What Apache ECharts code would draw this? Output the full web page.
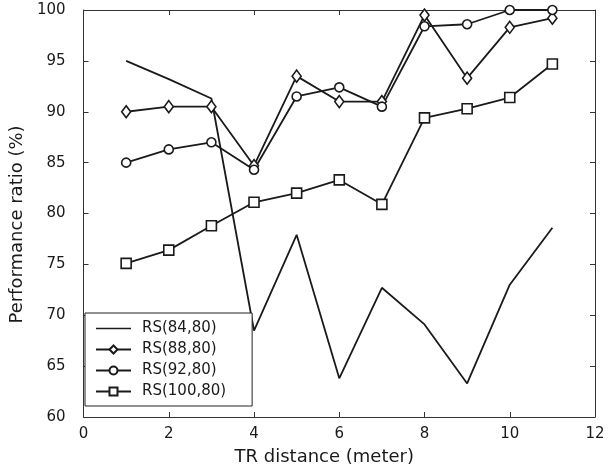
<!DOCTYPE html>
<html>
<head>
<meta charset="utf-8">
<script src="https://cdn.jsdelivr.net/npm/echarts@6/dist/echarts.min.js"></script>
<style>
  html, body { margin: 0; padding: 0; background: #fff; }
  #chart { width: 614px; height: 471px; }
</style>
</head>
<body>
<div id="chart"></div>
<script>
// TR distance (meter)
const distances = [1, 2, 3, 4, 5, 6, 7, 8, 9, 10, 11];

// Performance ratio (%) per configuration
const rs84 = [95.0, 93.2, 91.3, 68.5, 77.9, 63.8, 72.7, 69.1, 63.3, 73.0, 78.6];
const rs88 = [90.0, 90.5, 90.5, 84.7, 93.5, 91.0, 91.0, 99.5, 93.3, 98.3, 99.2];
const rs92 = [85.0, 86.3, 87.0, 84.3, 91.5, 92.4, 90.5, 98.4, 98.6, 100.0, 100.0];
const rs100 = [75.1, 76.4, 78.8, 81.1, 82.0, 83.3, 80.9, 89.4, 90.3, 91.4, 94.7];

const seriesNames = ['RS(84,80)', 'RS(88,80)', 'RS(92,80)', 'RS(100,80)'];

const xTicks = { min: 0, max: 12, interval: 2 };
const yTicks = { min: 60, max: 100, interval: 5 };

const ink = '#1a1a1a';
const font = 'DejaVu Sans';

// plain horizontal stroke for the marker-less series in the legend
const plainLineIcon = 'path://M0,0 M0,4.2 L35,4.2 L35,5.8 L0,5.8 Z M35,10';

function pairs(ys) {
  return distances.map((x, i) => [x, ys[i]]);
}

function lineSeries(name, ys, symbol, size) {
  return {
    name: name,
    type: 'line',
    data: pairs(ys),
    symbol: symbol,
    symbolSize: size,
    showSymbol: symbol !== 'none',
    lineStyle: { color: ink, width: 1.8 },
    itemStyle: { color: '#fff', borderColor: ink, borderWidth: 1.6 },
    emphasis: { disabled: true },
    animation: false,
    z: 2
  };
}

const boxAxisLine = { show: true, onZero: false, lineStyle: { color: '#333', width: 1 } };

const option = {
  backgroundColor: '#fff',
  textStyle: { fontFamily: font, color: ink },
  grid: { left: 78, right: 19, top: 10, bottom: 54 },
  legend: {
    orient: 'vertical',
    left: 85,
    top: 313,
    padding: [8, 26, 7, 10],
    itemWidth: 35,
    itemHeight: 10,
    itemGap: 6,
    backgroundColor: '#fff',
    borderColor: '#222',
    borderWidth: 1,
    borderRadius: 0,
    data: [
      { name: seriesNames[0], icon: plainLineIcon, itemStyle: { color: ink, borderWidth: 0 } },
      seriesNames[1],
      seriesNames[2],
      seriesNames[3]
    ],
    textStyle: { fontFamily: font, fontSize: 15, color: ink, padding: [0, 0, 0, 6] }
  },
  xAxis: [
    {
      type: 'value',
      position: 'bottom',
      min: xTicks.min, max: xTicks.max, interval: xTicks.interval,
      name: 'TR distance (meter)',
      nameLocation: 'middle',
      nameGap: 31,
      nameTextStyle: { fontFamily: font, fontSize: 18, color: ink, padding: [0, 30, 0, 0] },
      axisLine: boxAxisLine,
      axisTick: { show: true, inside: true, length: 5, lineStyle: { color: '#333' } },
      axisLabel: { fontFamily: font, fontSize: 15, color: ink, margin: 10 },
      splitLine: { show: false }
    },
    {
      type: 'value',
      position: 'top',
      min: xTicks.min, max: xTicks.max, interval: xTicks.interval,
      axisLine: boxAxisLine,
      axisTick: { show: true, inside: true, length: 5, lineStyle: { color: '#333' } },
      axisLabel: { show: false },
      splitLine: { show: false }
    }
  ],
  yAxis: [
    {
      type: 'value',
      position: 'left',
      min: yTicks.min, max: yTicks.max, interval: yTicks.interval,
      name: 'Performance ratio (%)',
      nameLocation: 'middle',
      nameGap: 55,
      nameTextStyle: { fontFamily: font, fontSize: 18, color: ink, padding: [0, 22, 0, 0] },
      axisLine: boxAxisLine,
      axisTick: { show: true, inside: true, length: 5, lineStyle: { color: '#333' } },
      axisLabel: { fontFamily: font, fontSize: 15, color: ink, margin: 18 },
      splitLine: { show: false }
    },
    {
      type: 'value',
      position: 'right',
      min: yTicks.min, max: yTicks.max, interval: yTicks.interval,
      axisLine: boxAxisLine,
      axisTick: { show: true, inside: true, length: 5, lineStyle: { color: '#333' } },
      axisLabel: { show: false },
      splitLine: { show: false }
    }
  ],
  series: [
    lineSeries(seriesNames[0], rs84, 'none', 0),
    lineSeries(seriesNames[1], rs88, 'diamond', [9, 12]),
    lineSeries(seriesNames[2], rs92, 'circle', 9),
    lineSeries(seriesNames[3], rs100, 'rect', 10)
  ]
};

const chart = echarts.init(document.getElementById('chart'), null, { renderer: 'canvas' });
chart.setOption(option);
</script>
</body>
</html>
